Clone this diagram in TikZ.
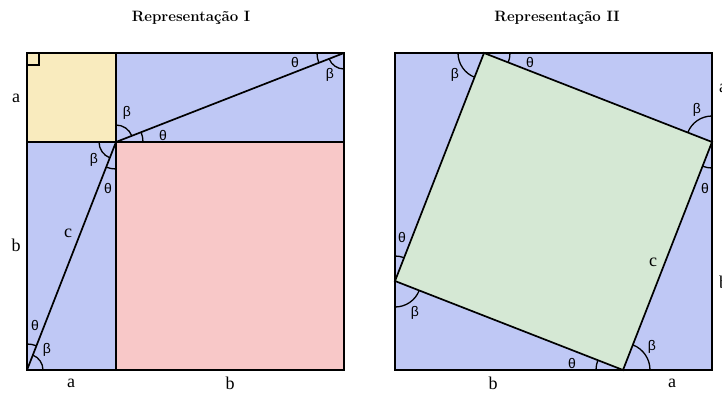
\documentclass[tikz,border=0pt]{standalone}
\usepackage{fontspec}
\newfontfamily\sidefont{Liberation Serif}
\newfontfamily\greekfont{Liberation Sans}
\usepackage{xcolor}
\definecolor{sqyellow}{HTML}{F9EBBE}
\definecolor{sqblue}{HTML}{BFC8F5}
\definecolor{sqpink}{HTML}{F8C8C8}
\definecolor{sqgreen}{HTML}{D5E8D4}

\begin{document}
\begin{tikzpicture}[x=1pt,y=1pt,
  edge/.style={draw,line width=1.7pt,line join=miter},
  arcline/.style={draw,line width=1.3pt},
  side/.style={font=\sidefont\fontsize{18}{18}\selectfont,inner sep=0pt},
  ang/.style={font=\greekfont\fontsize{14}{14}\selectfont,inner sep=0pt},
  title/.style={font=\bfseries\fontsize{15}{15}\selectfont,inner sep=0pt},
]
  \useasboundingbox (0,0) rectangle (722,392);

  % Titles
  \node[title] (titleI) at (191,374) {Representação I};
  \node[title] (titleII) at (557,374) {Representação II};

  % Representacao I
  \coordinate (lo) at (27,22);
  \coordinate (lc) at (116,250);
  \coordinate (lt) at (344,339);
  \fill[sqyellow] (27,250) rectangle (116,339);
  \fill[sqblue] (116,250) rectangle (344,339);
  \fill[sqblue] (27,22) rectangle (116,250);
  \fill[sqpink] (116,22) rectangle (344,250);
  \draw[edge] (lc |- lt) -- (lc |- lo);
  \draw[edge] (lo |- lc) -- (lt |- lc);
  \draw[edge] (lo) -- (lc) -- (lt);
  \draw[edge] (lo) rectangle (lt);
  \draw[arcline] (27,327) -- (39,327) -- (39,339);

  % Representacao II
  \coordinate (rt) at (484,339);
  \coordinate (rr) at (712,250);
  \coordinate (rb) at (623,22);
  \coordinate (rl) at (395,111);
  \fill[sqblue] (395,22) rectangle (712,339);
  \draw[edge,fill=sqgreen] (rt) -- (rr) -- (rb) -- (rl) -- cycle;
  \draw[edge] (395,22) rectangle (712,339);

  % Angle arcs
  \foreach \v/\s/\e/\r in {lo/0/68.68/16, lo/68.68/90/26, lc/21.32/90/17, lc/0/21.32/27,
      lc/180/248.68/17, lc/248.68/270/27, lt/180/201.32/27, lt/201.32/270/16,
      rt/180/248.68/26, rt/338.68/360/26, rr/90/158.68/26, rr/248.68/270/26,
      rb/158.68/180/27, rb/0/68.68/27, rl/68.68/90/25, rl/270/338.68/26}
    \draw[arcline] (\v) ++(\s:\r) arc[start angle=\s,end angle=\e,radius=\r];

  % Angle labels
  \node[ang] (thlo) at (35,67) {θ};
  \node[ang] (belo) at (47,42) {β};
  \node[ang] (belcup) at (127,279) {β};
  \node[ang] (thlcup) at (163,257) {θ};
  \node[ang] (belcdn) at (94,232) {β};
  \node[ang] (thlcdn) at (108,204) {θ};
  \node[ang] (thlt) at (295,330) {θ};
  \node[ang] (belt) at (330,317) {β};
  \node[ang] (bert) at (455,317) {β};
  \node[ang] (thrt) at (530,330) {θ};
  \node[ang] (berr) at (697,282) {β};
  \node[ang] (thrr) at (705,204) {θ};
  \node[ang] (thrb) at (572,29) {θ};
  \node[ang] (berb) at (652,45) {β};
  \node[ang] (thrl) at (402,155) {θ};
  \node[ang] (berl) at (415,79) {β};

  % Side labels
  \node[side] (la) at (16,294) {a};
  \node[side] (lb) at (16,147) {b};
  \node[side] (ba) at (71,9) {a};
  \node[side] (bb) at (230,9) {b};
  \node[side] (lcc) at (68,159) {c};
  \node[side] (rbb) at (493,9) {b};
  \node[side] (rba) at (672,9) {a};
  \node[side] (rcc) at (653,130) {c};
  \node[side,anchor=west] (ra) at (719,304) {a};
  \node[side,anchor=west] (rbs) at (719,110) {b};
\end{tikzpicture}
\end{document}
